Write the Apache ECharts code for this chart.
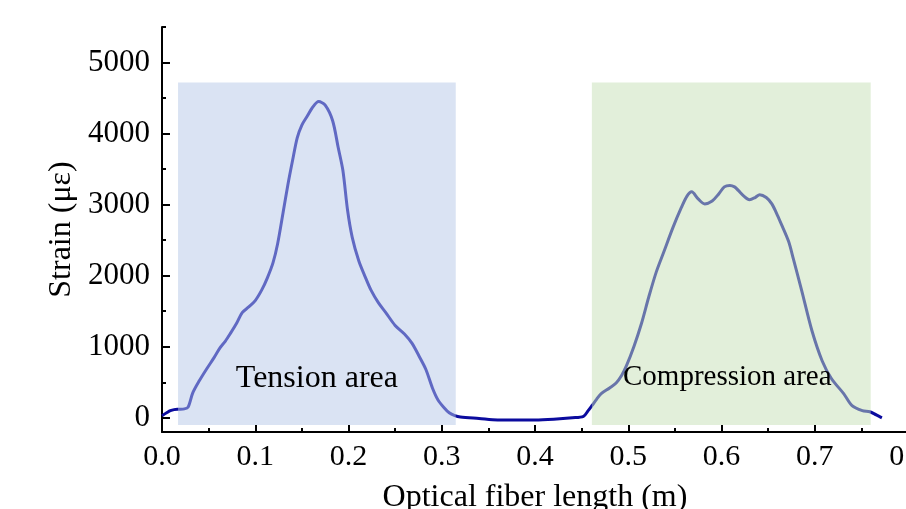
<!DOCTYPE html>
<html>
<head>
<meta charset="utf-8">
<script src="https://cdn.jsdelivr.net/npm/echarts@6/dist/echarts.min.js"></script>
<style>
  html, body { margin: 0; padding: 0; background: #fff; }
  #chart { width: 906px; height: 509px; }
</style>
</head>
<body>
<div id="chart"></div>
<script>
// fiber position (m) and strain (micro-strain)
const fiberX = [
  0.000, 0.005, 0.009, 0.013, 0.018, 0.024, 0.028, 0.033, 0.040, 0.048,
  0.056, 0.062, 0.068, 0.073, 0.080, 0.086, 0.093, 0.100, 0.107, 0.113,
  0.119, 0.124, 0.130, 0.135, 0.140, 0.145, 0.150, 0.156, 0.161, 0.168,
  0.175, 0.183, 0.189, 0.194, 0.199, 0.204, 0.211, 0.218, 0.224, 0.232,
  0.240, 0.250, 0.260, 0.268, 0.276, 0.283, 0.290, 0.296, 0.302, 0.308,
  0.314, 0.320, 0.340, 0.360, 0.380, 0.400, 0.420, 0.440, 0.452, 0.457,
  0.461, 0.466, 0.471, 0.480, 0.487, 0.493, 0.498, 0.506, 0.514, 0.522,
  0.530, 0.538, 0.548, 0.557, 0.563, 0.568, 0.575, 0.582, 0.590, 0.597,
  0.603, 0.609, 0.614, 0.618, 0.624, 0.630, 0.636, 0.641, 0.648, 0.654,
  0.660, 0.665, 0.672, 0.677, 0.686, 0.697, 0.708, 0.718, 0.731, 0.740,
  0.751, 0.759, 0.766, 0.772
];
const strain = [
    30,   70,  100,  115,  120,  125,  150,  350,  520,  690,
   850,  980, 1080, 1180, 1330, 1480, 1560, 1650, 1800, 1970,
  2180, 2450, 2900, 3280, 3620, 3940, 4120, 4250, 4360, 4450,
  4400, 4180, 3800, 3480, 2920, 2540, 2210, 1980, 1800, 1620,
  1480, 1300, 1180, 1050,  860,  680,  420,  250,  150,   70,
    30,   10,  -10,  -30,  -30,  -30,  -20,    0,   20,  100,
   170,  260,  340,  420,  490,  600,  730, 1000, 1320, 1700,
  2050, 2330, 2680, 2960, 3120, 3180, 3080, 3010, 3050, 3150,
  3250, 3270, 3250, 3200, 3120, 3070, 3100, 3140, 3100, 3010,
  2850, 2700, 2480, 2240, 1790, 1225,  800,  550,  340,  170,
   100,   85,   40,    0
];
// shaded regions [x0, x1], shared vertical extent
const tensionArea = [0.0172, 0.315];
const compressionArea = [0.461, 0.760];
const areaY = [-100, 4720];
const yLabels = [0, 1000, 2000, 3000, 4000, 5000];
const yMinorTicks = [500, 1500, 2500, 3500, 4500, 5500];

const serif = "'Liberation Serif', 'Times New Roman', serif";
const chart = echarts.init(document.getElementById('chart'));

const points = fiberX.map((x, i) => [x, strain[i]]);

const option = {
  animation: false,
  backgroundColor: '#fff',
  grid: { left: 162, right: -2, top: 27, bottom: 77, outerBoundsMode: 'none' },
  xAxis: {
    type: 'value',
    min: 0, max: 0.8, interval: 0.1,
    name: 'Optical fiber length (m)',
    nameLocation: 'middle',
    nameGap: 50,
    nameTextStyle: { fontFamily: serif, fontSize: 32, color: '#000' },
    axisLine: { onZero: false, lineStyle: { color: '#000', width: 2 } },
    axisTick: { inside: true, length: 7, lineStyle: { color: '#000', width: 2 } },
    minorTick: { show: true, splitNumber: 2, length: 4, lineStyle: { color: '#000', width: 2 } },
    splitLine: { show: false },
    axisLabel: {
      margin: 10, fontFamily: serif, fontSize: 30, color: '#000',
      formatter: v => v.toFixed(1)
    }
  },
  yAxis: [{
    type: 'value',
    min: -200, max: 5500,
    name: 'Strain (με)',
    nameLocation: 'middle',
    nameGap: 80,
    nameTextStyle: { fontFamily: serif, fontSize: 32, color: '#000' },
    axisLine: { lineStyle: { color: '#000', width: 2 } },
    axisTick: { inside: true, length: 8, customValues: yLabels, lineStyle: { color: '#000', width: 2 } },
    splitLine: { show: false },
    axisLabel: {
      customValues: yLabels, margin: 12,
      fontFamily: serif, fontSize: 31, color: '#000',
      formatter: v => String(v)
    }
  }, {
    type: 'value',
    position: 'left',
    min: -200, max: 5500,
    axisLine: { show: false },
    axisTick: { inside: true, length: 4, customValues: yMinorTicks, lineStyle: { color: '#000', width: 2 } },
    axisLabel: { show: false, customValues: yMinorTicks },
    splitLine: { show: false }
  }],
  series: [{
    type: 'line',
    data: points,
    showSymbol: false,
    smooth: 0.3,
    z: 2,
    lineStyle: { color: '#0b0b9e', width: 3 }
  }, {
    type: 'line',
    data: [],
    z: 5,
    markArea: {
      silent: true,
      z: 6,
      label: {
        position: 'insideBottom',
        color: '#000',
        fontFamily: serif
      },
      data: [
        [{
          name: 'Tension area',
          xAxis: tensionArea[0], yAxis: areaY[1],
          itemStyle: { color: 'rgba(181,199,231,0.5)' },
          label: { fontSize: 32, distance: 30 }
        }, { xAxis: tensionArea[1], yAxis: areaY[0] }],
        [{
          name: 'Compression area',
          xAxis: compressionArea[0], yAxis: areaY[1],
          itemStyle: { color: 'rgba(197,223,181,0.5)' },
          label: { fontSize: 29, distance: 33, offset: [-4, 0] }
        }, { xAxis: compressionArea[1], yAxis: areaY[0] }]
      ]
    }
  }]
};

chart.setOption(option);
</script>
</body>
</html>
